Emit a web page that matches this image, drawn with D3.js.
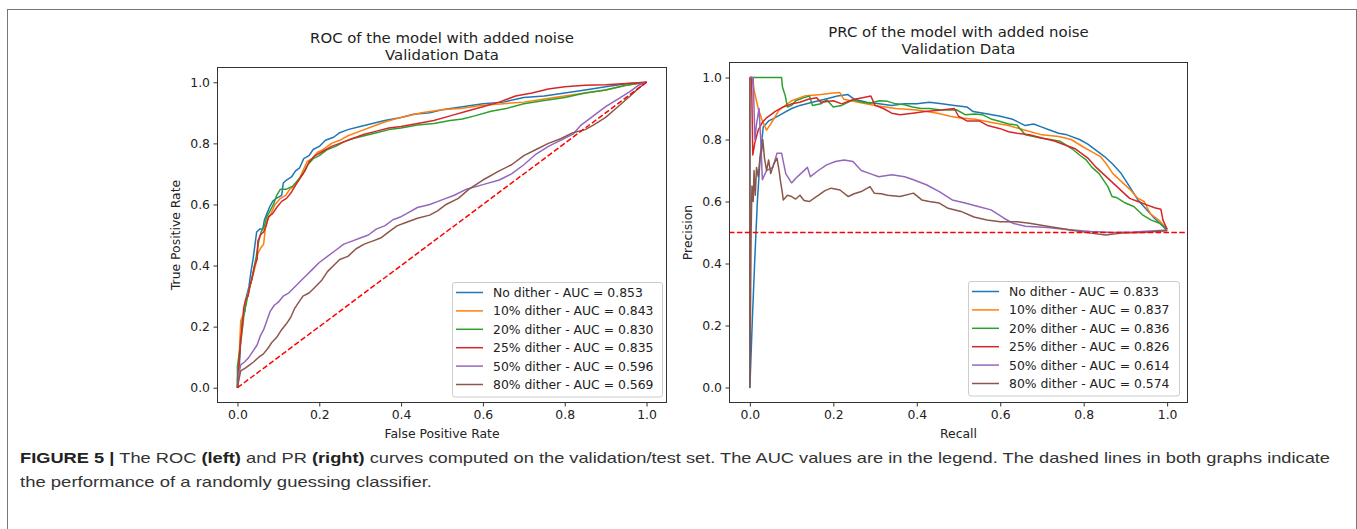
<!DOCTYPE html>
<html lang="en">
<head>
<meta charset="UTF-8">
<title>ROC and PR curves with added noise</title>
<script src="https://d3js.org/d3.v7.min.js"></script>
<style>
  body { margin: 0; background: #fff; }
  svg { display: block; }
  .plot text { font-family: "DejaVu Sans", sans-serif; fill: #222; }
  .caption { font-family: "Liberation Sans Narrow", "Liberation Sans", Arial, sans-serif; font-size: 15px; fill: #333; }
</style>
</head>
<body>
<svg width="1357" height="529"></svg>
<script>
// legend entries and AUC values
const series = ["No dither", "10% dither", "20% dither", "25% dither", "50% dither", "80% dither"];
const rocAuc = [0.853, 0.843, 0.830, 0.835, 0.596, 0.569];
const prAuc = [0.833, 0.837, 0.836, 0.826, 0.614, 0.574];
const tickValues = [0, 0.2, 0.4, 0.6, 0.8, 1.0];
const colors = ["#1f77b4", "#ff7f0e", "#2ca02c", "#d62728", "#9467bd", "#8c564b"];

// ROC curves, [fpr, tpr]
const rocNoDither = [[0,0],[0,0.03],[0.005,0.08],[0.008,0.16],[0.012,0.23],[0.018,0.25],[0.022,0.3],[0.028,0.33],[0.033,0.38],[0.038,0.42],[0.042,0.46],[0.047,0.51],[0.055,0.52],[0.062,0.52],[0.066,0.55],[0.072,0.57],[0.078,0.59],[0.086,0.61],[0.095,0.62],[0.108,0.63],[0.112,0.67],[0.12,0.68],[0.132,0.69],[0.142,0.71],[0.152,0.72],[0.162,0.75],[0.175,0.76],[0.185,0.78],[0.2,0.79],[0.215,0.81],[0.235,0.82],[0.25,0.835],[0.27,0.845],[0.3,0.855],[0.33,0.865],[0.36,0.875],[0.4,0.885],[0.43,0.895],[0.47,0.9],[0.5,0.91],[0.55,0.92],[0.6,0.93],[0.65,0.935],[0.7,0.95],[0.75,0.955],[0.8,0.965],[0.85,0.975],[0.9,0.985],[0.95,0.995],[1,1]];
const roc10 = [[0,0],[0.004,0.1],[0.008,0.22],[0.015,0.24],[0.02,0.27],[0.026,0.31],[0.032,0.34],[0.038,0.37],[0.044,0.4],[0.05,0.44],[0.058,0.46],[0.064,0.47],[0.068,0.52],[0.074,0.55],[0.082,0.57],[0.092,0.6],[0.105,0.62],[0.118,0.63],[0.128,0.65],[0.14,0.66],[0.15,0.68],[0.16,0.71],[0.17,0.74],[0.182,0.75],[0.195,0.77],[0.21,0.78],[0.23,0.8],[0.25,0.81],[0.27,0.825],[0.3,0.84],[0.33,0.855],[0.36,0.87],[0.4,0.885],[0.45,0.9],[0.5,0.91],[0.55,0.915],[0.6,0.925],[0.65,0.93],[0.7,0.935],[0.75,0.945],[0.8,0.955],[0.85,0.965],[0.9,0.975],[0.95,0.99],[1,1]];
const roc20 = [[0,0],[0,0.07],[0.005,0.12],[0.01,0.17],[0.016,0.24],[0.022,0.28],[0.028,0.32],[0.034,0.35],[0.04,0.39],[0.046,0.43],[0.052,0.48],[0.058,0.51],[0.066,0.53],[0.072,0.56],[0.08,0.58],[0.088,0.6],[0.096,0.63],[0.105,0.65],[0.12,0.65],[0.135,0.66],[0.148,0.68],[0.16,0.7],[0.172,0.73],[0.185,0.75],[0.2,0.76],[0.22,0.78],[0.24,0.79],[0.26,0.805],[0.28,0.815],[0.31,0.825],[0.34,0.835],[0.37,0.845],[0.4,0.85],[0.44,0.86],[0.48,0.865],[0.52,0.875],[0.55,0.88],[0.58,0.89],[0.62,0.905],[0.66,0.915],[0.7,0.93],[0.75,0.94],[0.8,0.95],[0.85,0.965],[0.9,0.975],[0.95,0.99],[1,1]];
const roc25 = [[0,0],[0.004,0.08],[0.008,0.16],[0.012,0.2],[0.015,0.26],[0.02,0.29],[0.026,0.3],[0.03,0.33],[0.036,0.36],[0.042,0.4],[0.048,0.42],[0.05,0.48],[0.056,0.5],[0.064,0.51],[0.07,0.53],[0.076,0.56],[0.086,0.57],[0.096,0.59],[0.108,0.61],[0.12,0.62],[0.132,0.64],[0.145,0.67],[0.155,0.69],[0.165,0.71],[0.175,0.74],[0.19,0.76],[0.21,0.775],[0.23,0.79],[0.25,0.8],[0.28,0.815],[0.31,0.83],[0.34,0.84],[0.37,0.85],[0.4,0.855],[0.44,0.865],[0.48,0.875],[0.52,0.89],[0.56,0.905],[0.6,0.92],[0.64,0.935],[0.68,0.955],[0.72,0.965],[0.76,0.978],[0.8,0.985],[0.85,0.99],[0.9,0.992],[0.95,0.996],[1,1]];
const roc50 = [[0,0],[0.004,0.05],[0.008,0.075],[0.018,0.085],[0.028,0.1],[0.038,0.12],[0.048,0.14],[0.056,0.17],[0.064,0.19],[0.072,0.22],[0.08,0.25],[0.09,0.27],[0.1,0.28],[0.112,0.3],[0.125,0.31],[0.14,0.33],[0.155,0.35],[0.17,0.37],[0.185,0.39],[0.2,0.41],[0.22,0.43],[0.24,0.45],[0.26,0.47],[0.28,0.48],[0.3,0.49],[0.32,0.5],[0.34,0.52],[0.36,0.53],[0.38,0.55],[0.4,0.56],[0.42,0.575],[0.44,0.59],[0.47,0.6],[0.5,0.615],[0.53,0.63],[0.56,0.65],[0.6,0.665],[0.64,0.68],[0.67,0.7],[0.7,0.73],[0.73,0.765],[0.76,0.79],[0.79,0.81],[0.82,0.83],[0.84,0.86],[0.87,0.89],[0.9,0.92],[0.93,0.945],[0.96,0.97],[0.98,0.99],[1,1]];
const roc80 = [[0,0],[0.004,0.03],[0.008,0.055],[0.02,0.065],[0.03,0.075],[0.04,0.085],[0.052,0.1],[0.063,0.11],[0.075,0.13],[0.085,0.15],[0.096,0.165],[0.108,0.19],[0.12,0.21],[0.13,0.23],[0.14,0.26],[0.15,0.28],[0.16,0.3],[0.175,0.31],[0.19,0.33],[0.205,0.35],[0.22,0.38],[0.235,0.4],[0.25,0.42],[0.27,0.43],[0.29,0.455],[0.31,0.47],[0.33,0.48],[0.35,0.49],[0.37,0.51],[0.39,0.53],[0.41,0.54],[0.44,0.555],[0.47,0.565],[0.49,0.58],[0.51,0.6],[0.54,0.62],[0.566,0.65],[0.6,0.68],[0.64,0.71],[0.67,0.73],[0.7,0.76],[0.73,0.78],[0.76,0.8],[0.79,0.815],[0.82,0.835],[0.85,0.845],[0.87,0.86],[0.9,0.885],[0.93,0.92],[0.96,0.955],[0.98,0.98],[1,1]];
const rocChance = [[0,0],[1,1]];

// PR curves, [recall, precision]
const prNoDither = [[0,1],[0,0],[0.006,0.22],[0.012,0.42],[0.018,0.6],[0.025,0.75],[0.032,0.84],[0.045,0.86],[0.06,0.87],[0.08,0.885],[0.1,0.9],[0.12,0.91],[0.15,0.92],[0.18,0.93],[0.21,0.94],[0.235,0.945],[0.25,0.93],[0.28,0.92],[0.31,0.915],[0.34,0.91],[0.37,0.915],[0.4,0.915],[0.43,0.92],[0.46,0.915],[0.49,0.91],[0.52,0.905],[0.535,0.89],[0.56,0.885],[0.6,0.875],[0.63,0.865],[0.66,0.845],[0.68,0.85],[0.7,0.84],[0.72,0.83],[0.74,0.82],[0.76,0.815],[0.79,0.8],[0.81,0.785],[0.83,0.765],[0.85,0.745],[0.87,0.72],[0.89,0.69],[0.91,0.648],[0.93,0.605],[0.95,0.575],[0.97,0.545],[0.99,0.52],[1,0.505]];
const pr10 = [[0,1],[0.005,1],[0.01,0.96],[0.02,0.9],[0.03,0.86],[0.04,0.83],[0.05,0.85],[0.07,0.895],[0.1,0.925],[0.13,0.94],[0.17,0.945],[0.2,0.95],[0.215,0.952],[0.225,0.93],[0.26,0.92],[0.3,0.91],[0.35,0.9],[0.4,0.895],[0.45,0.885],[0.48,0.875],[0.5,0.87],[0.54,0.865],[0.58,0.855],[0.62,0.845],[0.66,0.83],[0.7,0.815],[0.74,0.81],[0.77,0.8],[0.8,0.775],[0.82,0.76],[0.84,0.745],[0.855,0.72],[0.87,0.69],[0.89,0.665],[0.91,0.64],[0.93,0.61],[0.945,0.6],[0.96,0.56],[0.98,0.54],[1,0.51]];
const pr20 = [[0,1],[0.076,1],[0.078,0.97],[0.085,0.94],[0.09,0.905],[0.1,0.91],[0.11,0.925],[0.13,0.935],[0.143,0.94],[0.15,0.91],[0.17,0.915],[0.184,0.928],[0.2,0.905],[0.22,0.91],[0.247,0.928],[0.27,0.92],[0.288,0.917],[0.31,0.925],[0.33,0.923],[0.35,0.915],[0.371,0.912],[0.39,0.905],[0.41,0.9],[0.43,0.9],[0.454,0.896],[0.475,0.895],[0.495,0.896],[0.516,0.88],[0.54,0.882],[0.557,0.88],[0.58,0.865],[0.6,0.858],[0.62,0.85],[0.64,0.847],[0.66,0.815],[0.68,0.81],[0.7,0.804],[0.72,0.8],[0.744,0.794],[0.76,0.78],[0.775,0.767],[0.79,0.75],[0.806,0.734],[0.82,0.71],[0.837,0.69],[0.858,0.648],[0.868,0.616],[0.88,0.612],[0.9,0.595],[0.92,0.584],[0.941,0.557],[0.962,0.54],[0.982,0.53],[1,0.51]];
const pr25 = [[0,1],[0.004,1],[0.007,0.75],[0.012,0.79],[0.02,0.83],[0.03,0.855],[0.04,0.87],[0.06,0.89],[0.08,0.905],[0.1,0.915],[0.12,0.92],[0.14,0.93],[0.16,0.935],[0.17,0.92],[0.2,0.925],[0.22,0.915],[0.25,0.93],[0.27,0.935],[0.29,0.94],[0.3,0.91],[0.32,0.9],[0.34,0.885],[0.36,0.88],[0.39,0.885],[0.42,0.89],[0.46,0.895],[0.49,0.9],[0.5,0.875],[0.52,0.86],[0.55,0.86],[0.57,0.845],[0.6,0.835],[0.62,0.825],[0.64,0.82],[0.67,0.815],[0.7,0.805],[0.73,0.795],[0.76,0.78],[0.78,0.77],[0.81,0.74],[0.83,0.71],[0.85,0.685],[0.87,0.66],[0.89,0.635],[0.91,0.61],[0.93,0.6],[0.95,0.59],[0.97,0.58],[0.985,0.575],[0.99,0.54],[1,0.51]];
const pr50 = [[0,1],[0.008,1],[0.012,0.8],[0.016,0.85],[0.022,0.9],[0.026,0.8],[0.03,0.67],[0.04,0.7],[0.055,0.71],[0.065,0.756],[0.076,0.756],[0.086,0.69],[0.1,0.66],[0.11,0.675],[0.122,0.69],[0.138,0.71],[0.145,0.68],[0.164,0.7],[0.184,0.718],[0.205,0.729],[0.226,0.734],[0.247,0.729],[0.267,0.7],[0.288,0.69],[0.309,0.68],[0.34,0.686],[0.371,0.68],[0.392,0.67],[0.423,0.654],[0.454,0.632],[0.485,0.605],[0.516,0.595],[0.547,0.584],[0.578,0.573],[0.609,0.546],[0.63,0.53],[0.66,0.52],[0.713,0.516],[0.765,0.509],[0.817,0.503],[0.87,0.5],[0.92,0.502],[0.96,0.505],[1,0.508]];
const pr80 = [[0,1],[0,0],[0.003,0.5],[0.005,0.65],[0.008,0.6],[0.01,0.7],[0.013,0.62],[0.016,0.71],[0.02,0.68],[0.024,0.74],[0.028,0.76],[0.031,0.8],[0.035,0.74],[0.04,0.7],[0.045,0.734],[0.05,0.69],[0.057,0.72],[0.065,0.74],[0.07,0.7],[0.074,0.66],[0.078,0.627],[0.08,0.605],[0.09,0.62],[0.1,0.616],[0.11,0.608],[0.12,0.62],[0.13,0.603],[0.143,0.6],[0.155,0.612],[0.164,0.62],[0.18,0.635],[0.195,0.643],[0.216,0.637],[0.236,0.616],[0.25,0.625],[0.267,0.632],[0.288,0.648],[0.298,0.627],[0.315,0.625],[0.33,0.62],[0.36,0.616],[0.392,0.627],[0.412,0.605],[0.43,0.6],[0.454,0.595],[0.475,0.578],[0.506,0.568],[0.537,0.55],[0.568,0.54],[0.6,0.535],[0.64,0.535],[0.67,0.53],[0.713,0.52],[0.765,0.509],[0.817,0.498],[0.853,0.492],[0.89,0.498],[0.94,0.5],[1,0.506]];
const prChance = 0.5;

const svg = d3.select("svg");
const fmt = d3.format(".1f");

// outer figure frame
svg.append("rect")
  .attr("x", 7.5).attr("y", 9.5).attr("width", 1349).attr("height", 540)
  .attr("fill", "none").attr("stroke", "#777").attr("stroke-width", 1);

function drawPanel(p) {
  const g = svg.append("g").attr("class", "plot");
  const x = d3.scaleLinear().domain([-0.05, 1.05]).range([p.left, p.right]);
  const y = d3.scaleLinear().domain([-0.05, 1.05]).range([p.bottom, p.top]);

  const clipId = "clip-" + p.id;
  g.append("clipPath").attr("id", clipId).append("rect")
    .attr("x", p.left).attr("y", p.top)
    .attr("width", p.right - p.left).attr("height", p.bottom - p.top);

  // x axis
  const xa = g.append("g")
    .attr("transform", `translate(0,${p.bottom})`)
    .call(d3.axisBottom(x).tickValues(tickValues).tickFormat(fmt).tickSize(3.5).tickPadding(3.5));
  xa.select(".domain").remove();
  xa.selectAll("text").attr("font-size", 12.4).attr("font-family", "DejaVu Sans").attr("fill", "#222");
  xa.selectAll("line").attr("stroke", "#333");

  // y axis
  const ya = g.append("g")
    .attr("transform", `translate(${p.left},0)`)
    .call(d3.axisLeft(y).tickValues(tickValues).tickFormat(fmt).tickSize(3.5).tickPadding(3.5));
  ya.select(".domain").remove();
  ya.selectAll("text").attr("font-size", 12.4).attr("font-family", "DejaVu Sans").attr("fill", "#222");
  ya.selectAll("line").attr("stroke", "#333");

  const line = d3.line().x(d => x(d[0])).y(d => y(d[1]));
  const plot = g.append("g").attr("clip-path", `url(#${clipId})`);

  plot.selectAll("path.curve")
    .data(p.curves)
    .enter().append("path")
    .attr("class", "curve")
    .attr("d", line)
    .attr("fill", "none")
    .attr("stroke", (d, i) => colors[i])
    .attr("stroke-width", 1.5)
    .attr("stroke-linejoin", "round");

  plot.append("path")
    .attr("d", line(p.chance))
    .attr("fill", "none")
    .attr("stroke", "#ff0000")
    .attr("stroke-width", 1.5)
    .attr("stroke-dasharray", "5.5,2.4");

  // frame
  g.append("rect")
    .attr("x", p.left + 0.5).attr("y", p.top + 0.5)
    .attr("width", p.right - p.left - 1).attr("height", p.bottom - p.top - 1)
    .attr("fill", "none").attr("stroke", "#333").attr("stroke-width", 1);

  // title
  const cx = (p.left + p.right) / 2;
  g.append("text").attr("x", cx).attr("y", p.titleY)
    .attr("text-anchor", "middle").attr("font-size", 14.9).text(p.title[0]);
  g.append("text").attr("x", cx).attr("y", p.titleY + 16.5)
    .attr("text-anchor", "middle").attr("font-size", 14.9).text(p.title[1]);

  // axis labels
  g.append("text").attr("x", cx).attr("y", p.bottom + 35)
    .attr("text-anchor", "middle").attr("font-size", 12.4).text(p.xLabel);
  g.append("text")
    .attr("transform", `translate(${p.yLabelX},${(p.top + p.bottom) / 2}) rotate(-90)`)
    .attr("text-anchor", "middle").attr("font-size", 12.4).text(p.yLabel);

  // legend
  const lg = g.append("g");
  lg.append("rect")
    .attr("x", p.legend.x + 0.5).attr("y", p.legend.y + 0.5)
    .attr("width", p.legend.w).attr("height", 114.5)
    .attr("rx", 2.5)
    .attr("fill", "#fff").attr("fill-opacity", 0.8)
    .attr("stroke", "#ccc").attr("stroke-width", 1);
  const rows = lg.selectAll("g.row")
    .data(series)
    .enter().append("g")
    .attr("class", "row")
    .attr("transform", (d, i) => `translate(${p.legend.x},${p.legend.y + 10.5 + i * 18.4})`);
  rows.append("line")
    .attr("x1", 4).attr("x2", 31).attr("y1", 0).attr("y2", 0)
    .attr("stroke", (d, i) => colors[i]).attr("stroke-width", 1.5);
  rows.append("text")
    .attr("x", 41).attr("y", 4.5)
    .attr("font-size", 12.4)
    .text((d, i) => `${d} - AUC = ${p.auc[i].toFixed(3)}`);
}

drawPanel({
  id: "roc", left: 217, right: 667, top: 67, bottom: 403, titleY: 43,
  title: ["ROC of the model with added noise", "Validation Data"],
  xLabel: "False Positive Rate", yLabel: "True Positive Rate", yLabelX: 180,
  curves: [rocNoDither, roc10, roc20, roc25, roc50, roc80],
  chance: rocChance, auc: rocAuc,
  legend: { x: 452, y: 282, w: 210 }
});

drawPanel({
  id: "prc", left: 729, right: 1188, top: 62, bottom: 403, titleY: 37,
  title: ["PRC of the model with added noise", "Validation Data"],
  xLabel: "Recall", yLabel: "Precision", yLabelX: 692,
  curves: [prNoDither, pr10, pr20, pr25, pr50, pr80],
  chance: [[-0.05, prChance], [1.05, prChance]], auc: prAuc,
  legend: { x: 968, y: 281, w: 211 }
});

// caption
const cap1 = svg.append("text").attr("class", "caption")
  .attr("x", 20).attr("y", 463)
  .attr("textLength", 1310).attr("lengthAdjust", "spacingAndGlyphs");
cap1.append("tspan").attr("font-weight", "bold").attr("fill", "#222").text("FIGURE 5 | ");
cap1.append("tspan").text("The ROC ");
cap1.append("tspan").attr("font-weight", "bold").attr("fill", "#222").text("(left)");
cap1.append("tspan").text(" and PR ");
cap1.append("tspan").attr("font-weight", "bold").attr("fill", "#222").text("(right)");
cap1.append("tspan").text(" curves computed on the validation/test set. The AUC values are in the legend. The dashed lines in both graphs indicate");

svg.append("text").attr("class", "caption")
  .attr("x", 20).attr("y", 487)
  .attr("textLength", 412).attr("lengthAdjust", "spacingAndGlyphs")
  .text("the performance of a randomly guessing classifier.");
</script>
</body>
</html>
